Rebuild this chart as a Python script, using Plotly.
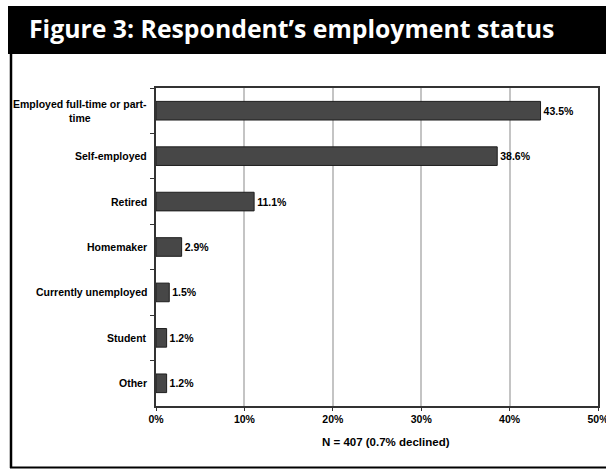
import plotly.graph_objects as go

categories = ["Employed full-time or part-<br>time", "Self-employed", "Retired", "Homemaker",
              "Currently unemployed", "Student", "Other"]
values = [43.5, 38.6, 11.1, 2.9, 1.5, 1.2, 1.2]
value_labels = ["43.5%", "38.6%", "11.1%", "2.9%", "1.5%", "1.2%", "1.2%"]
x_ticks = [0, 10, 20, 30, 40, 50]
x_tick_labels = ["0%", "10%", "20%", "30%", "40%", "50%"]
title = "Figure 3: Respondent’s employment status"
x_title = "N = 407 (0.7% declined)"

W, H = 606, 470
L, R, T, B = 156, 8, 88, 64
pw, ph = W - L - R, H - T - B

def px(x):
    return (x - L) / pw

def py(y):
    return (H - B - y) / ph

lab_font = dict(family="Liberation Sans, Arial", size=10.5, color="black", weight="bold")

fig = go.Figure()
fig.add_trace(go.Bar(
    y=categories, x=values, orientation="h",
    marker=dict(color="#474747", line=dict(color="#1e1e1e", width=1)),
    width=0.41,
    text=value_labels, textposition="outside", cliponaxis=False,
    textfont=lab_font,
))

annotations = []
for c in categories:
    annotations.append(dict(x=px(149), y=c, xref="paper", yref="y", text=c,
                            xanchor="right", yanchor="middle", align="center",
                            showarrow=False, font=lab_font))
annotations.append(dict(x=px(386), y=py(442), xref="paper", yref="paper", text=x_title,
                        xanchor="center", yanchor="middle", showarrow=False,
                        font=dict(family="Liberation Sans, Arial", size=11.5, color="black", weight="bold")))
annotations.append(dict(x=px(27), y=py(27.5), xref="paper", yref="paper", text=title,
                        xanchor="left", yanchor="middle", showarrow=False,
                        font=dict(family="Open Sans", size=24.8, color="white", weight="bold")))

shapes = [
    dict(type="rect", xref="paper", yref="paper", x0=px(8), x1=px(620), y0=py(54), y1=py(6),
         fillcolor="black", line=dict(width=0), layer="below"),
    dict(type="line", xref="paper", yref="paper", x0=px(11), x1=px(11), y0=py(54), y1=py(468),
         line=dict(color="black", width=2.5)),
    dict(type="line", xref="paper", yref="paper", x0=px(10), x1=px(620), y0=py(467.5), y1=py(467.5),
         line=dict(color="black", width=2)),
]

fig.update_layout(
    width=W, height=H,
    margin=dict(l=L, r=R, t=T, b=B, pad=0),
    paper_bgcolor="white", plot_bgcolor="white",
    showlegend=False,
    annotations=annotations, shapes=shapes,
    xaxis=dict(range=[0, 50], tickvals=x_ticks, ticktext=x_tick_labels,
               showgrid=True, gridcolor="#c4c4c4", gridwidth=1.5,
               showline=True, linecolor="#333333", linewidth=1.5, mirror=True,
               ticks="outside", ticklen=3, tickcolor="#333333",
               ticklabeloverflow="allow", automargin=False,
               tickfont=lab_font, zeroline=False, fixedrange=True),
    yaxis=dict(autorange="reversed", showticklabels=False, automargin=False,
               ticks="outside", ticklen=4, tickcolor="#333333", tickson="boundaries",
               showline=True, linecolor="#333333", linewidth=1.5, mirror=True,
               showgrid=False, fixedrange=True),
    bargap=0.59,
)

fig.write_html("out.html")
